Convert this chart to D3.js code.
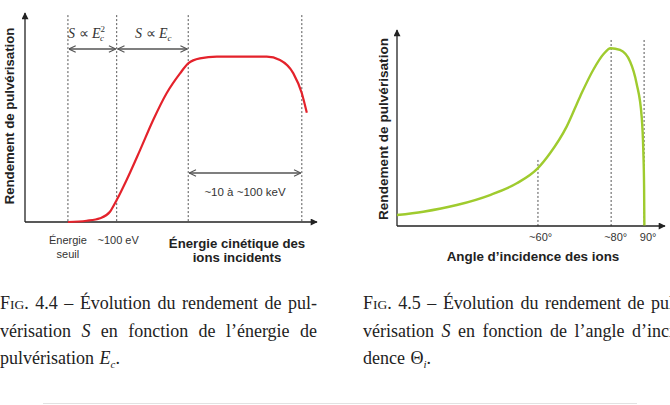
<!DOCTYPE html>
<html>
<head>
<meta charset="utf-8">
<script src="https://cdn.jsdelivr.net/npm/d3@7"></script>
<style>
  body { margin: 0; background: #fff; }
  svg { display: block; }
</style>
</head>
<body>
<svg id="fig" width="670" height="405"></svg>
<script>
//sputtering yield vs ion energy (arbitrary units 0..100 on both axes)
var energyX = [14.7, 21.1, 25.7, 29.1, 31.4, 34.8, 39.4, 43.9, 48.5, 53.1, 55.9, 59.9, 65.7, 82.8, 87.3, 91.9, 94.8, 96.5];
var energyY = [0, 0.6, 1.8, 4.9, 10.5, 20.1, 34.4, 48.8, 61.6, 71.1, 75.9, 78.3, 79.1, 79.1, 77.5, 71.1, 61.6, 52.3];
//dashed guide lines of the energy chart
var energyMarks = [14.7, 31.4, 55.9, 94.8];
var energyTickLabels = [["Énergie", "seuil"], ["~100 eV"]];
var energyTickAt = [14.7, 31.9];

//sputtering yield vs incidence angle (arbitrary units)
var angleX = [0, 9.8, 22.3, 34.7, 44.7, 52.5, 57.1, 63.3, 68.3, 73.2, 77, 79.7, 83.2, 87, 89.4, 91.3, 91.9, 92.2, 92.3];
var angleY = [5.6, 7.3, 10.7, 15.8, 21.8, 29.4, 37.1, 50.7, 66, 79.6, 87.6, 90.7, 89.8, 83.8, 72.7, 55.7, 38.6, 19.9, 0.2];
var angleMarks = [52.6, 79.9, 92.2];
var angleMarkTop = [33.7, 94.9, 94.9];
var angleTickLabels = ["~60°", "~80°", "90°"];
var angleTickAt = [53.6, 81.6, 93.7];

var svg = d3.select("#fig");
var sans = "'Liberation Sans', Arial, sans-serif";
var serif = "'Liberation Serif', 'Times New Roman', serif";

//arrow heads
var defs = svg.append("defs");
defs.append("marker").attr("id", "axisHead")
  .attr("viewBox", "0 0 10 10").attr("refX", 9).attr("refY", 5)
  .attr("markerWidth", 8).attr("markerHeight", 7).attr("markerUnits", "userSpaceOnUse")
  .attr("orient", "auto")
  .append("path").attr("d", "M0,0 L10,5 L0,10 Z").attr("fill", "#222");
defs.append("marker").attr("id", "vHead")
  .attr("viewBox", "0 0 10 10").attr("refX", 9.5).attr("refY", 5)
  .attr("markerWidth", 8).attr("markerHeight", 8).attr("markerUnits", "userSpaceOnUse")
  .attr("orient", "auto-start-reverse")
  .append("path").attr("d", "M1,1 L9.5,5 L1,9").attr("fill", "none")
  .attr("stroke", "#555").attr("stroke-width", 1.4);

//draws the two arrows of a chart frame
function drawAxes(g, x, y) {
  g.append("line")
    .attr("x1", x(0)).attr("y1", y(0)).attr("x2", x(0)).attr("y2", y(100))
    .attr("stroke", "#222").attr("stroke-width", 1.3).attr("marker-end", "url(#axisHead)");
  g.append("line")
    .attr("x1", x(0)).attr("y1", y(0)).attr("x2", x(100)).attr("y2", y(0))
    .attr("stroke", "#222").attr("stroke-width", 1.3).attr("marker-end", "url(#axisHead)");
}

function dashed(g, x1, y1, x2, y2) {
  g.append("line")
    .attr("x1", x1).attr("y1", y1).attr("x2", x2).attr("y2", y2)
    .attr("stroke", "#555").attr("stroke-width", 1).attr("stroke-dasharray", "2,2");
}

function doubleArrow(g, x1, x2, yy) {
  g.append("line")
    .attr("x1", x1).attr("y1", yy).attr("x2", x2).attr("y2", yy)
    .attr("stroke", "#555").attr("stroke-width", 1.3)
    .attr("marker-start", "url(#vHead)").attr("marker-end", "url(#vHead)");
}

function yTitle(g, xx, yy, size) {
  g.append("text")
    .attr("transform", "translate(" + xx + "," + yy + ") rotate(-90)")
    .attr("text-anchor", "middle")
    .style("font-family", sans).style("font-weight", "bold").style("font-size", size + "px")
    .attr("fill", "#222")
    .text("Rendement de pulvérisation");
}

// ---------- left chart: energy ----------
var xE = d3.scaleLinear().domain([0, 100]).range([25, 317]);
var yE = d3.scaleLinear().domain([0, 100]).range([222, 13]);
var gE = svg.append("g");

energyMarks.forEach(function(m) { dashed(gE, xE(m), yE(99), xE(m), yE(0)); });
drawAxes(gE, xE, yE);

gE.append("path")
  .datum(d3.zip(energyX, energyY))
  .attr("d", d3.line().x(function(d) { return xE(d[0]); }).y(function(d) { return yE(d[1]); }).curve(d3.curveMonotoneX))
  .attr("fill", "none").attr("stroke", "#e4222b").attr("stroke-width", 2.2);

//regime arrows
doubleArrow(gE, xE(energyMarks[0]) + 1, xE(energyMarks[1]) - 1, 49);
doubleArrow(gE, xE(energyMarks[1]) + 1, xE(energyMarks[2]) - 1, 49);
doubleArrow(gE, xE(energyMarks[2]) + 1, xE(energyMarks[3]) - 1, 173);

//S ~ Ec^2
var law1 = gE.append("text").attr("x", 68).attr("y", 38)
  .style("font-family", serif).style("font-size", "14px").style("font-style", "italic").attr("fill", "#333");
law1.append("tspan").text("S ");
law1.append("tspan").style("font-style", "normal").text("∝");
law1.append("tspan").text(" E");
law1.append("tspan").attr("dy", -6).style("font-size", "9px").style("font-style", "normal").text("2");
law1.append("tspan").attr("dx", -5).attr("dy", 9).style("font-size", "9px").text("c");

var law2 = gE.append("text").attr("x", 135).attr("y", 38)
  .style("font-family", serif).style("font-size", "14px").style("font-style", "italic").attr("fill", "#333");
law2.append("tspan").text("S ");
law2.append("tspan").style("font-style", "normal").text("∝");
law2.append("tspan").text(" E");
law2.append("tspan").attr("dy", 3).style("font-size", "9px").text("c");

gE.append("text")
  .attr("x", (xE(energyMarks[2]) + xE(energyMarks[3])) / 2).attr("y", 196)
  .attr("text-anchor", "middle")
  .style("font-family", sans).style("font-size", "11.5px").attr("fill", "#333")
  .text("~10 à ~100 keV");

energyTickLabels.forEach(function(lines, i) {
  lines.forEach(function(s, j) {
    gE.append("text")
      .attr("x", xE(energyTickAt[i])).attr("y", 244 + j * 14)
      .attr("text-anchor", "middle")
      .style("font-family", sans).style("font-size", "11px").attr("fill", "#333")
      .text(s);
  });
});

["Énergie cinétique des", "ions incidents"].forEach(function(s, j) {
  gE.append("text")
    .attr("x", 237).attr("y", 248 + j * 14)
    .attr("text-anchor", "middle")
    .style("font-family", sans).style("font-weight", "bold").style("font-size", "13.2px").attr("fill", "#222")
    .text(s);
});
yTitle(gE, 14, 116, 13.2);

// ---------- right chart: angle ----------
var xA = d3.scaleLinear().domain([0, 100]).range([397, 665]);
var yA = d3.scaleLinear().domain([0, 100]).range([226, 30]);
var gA = svg.append("g");

angleMarks.forEach(function(m, i) { dashed(gA, xA(m), yA(angleMarkTop[i]), xA(m), yA(0)); });
drawAxes(gA, xA, yA);

gA.append("path")
  .datum(d3.zip(angleX, angleY))
  .attr("d", d3.line().x(function(d) { return xA(d[0]); }).y(function(d) { return yA(d[1]); }).curve(d3.curveMonotoneX))
  .attr("fill", "none").attr("stroke", "#9fcb2e").attr("stroke-width", 2.4);

angleTickLabels.forEach(function(s, i) {
  gA.append("text")
    .attr("x", xA(angleTickAt[i])).attr("y", 241)
    .attr("text-anchor", "middle")
    .style("font-family", sans).style("font-size", "11px").attr("fill", "#333")
    .text(s);
});
gA.append("text")
  .attr("x", 533).attr("y", 261)
  .attr("text-anchor", "middle")
  .style("font-family", sans).style("font-weight", "bold").style("font-size", "13.4px").attr("fill", "#222")
  .text("Angle d’incidence des ions");
yTitle(gA, 388, 129, 13.6);

// ---------- captions ----------
//each word is a list of [text, kind] pieces: "" roman, "i" italic, "sc" small caps, "sub" subscript
var captionLeft = [
  [[["F", ""], ["IG", "sc"], [".", ""]], [["4.4", ""]], [["–", ""]], [["Évolution", ""]], [["du", ""]], [["rendement", ""]], [["de", ""]], [["pul-", ""]]],
  [[["vérisation", ""]], [["S", "i"]], [["en", ""]], [["fonction", ""]], [["de", ""]], [["l’énergie", ""]], [["de", ""]]],
  [[["pulvérisation", ""]], [["E", "i"], ["c", "sub"], [".", ""]]]
];
var captionRight = [
  [[["F", ""], ["IG", "sc"], [".", ""]], [["4.5", ""]], [["–", ""]], [["Évolution", ""]], [["du", ""]], [["rendement", ""]], [["de", ""]], [["pul-", ""]]],
  [[["vérisation", ""]], [["S", "i"]], [["en", ""]], [["fonction", ""]], [["de", ""]], [["l’angle", ""]], [["d’inci-", ""]]],
  [[["dence", ""]], [["Θ", ""], ["i", "sub"], [".", ""]]]
];
var captionBaselines = [309, 337, 364];

function drawCaption(words, x0, yy, width) {
  var nodes = words.map(function(w) {
    var t = svg.append("text").attr("y", yy)
      .style("font-family", serif).style("font-size", "18px").attr("fill", "#222");
    var shift = 0;
    w.forEach(function(p) {
      var s = t.append("tspan").text(p[0]);
      var want = p[1] == "sub" ? 4 : 0;
      if (want != shift) { s.attr("dy", want - shift); shift = want; }
      if (p[1] == "i") s.style("font-style", "italic");
      if (p[1] == "sc") s.style("font-size", "13.5px");
      if (p[1] == "sub") s.style("font-size", "11px").style("font-style", "italic");
    });
    return t;
  });
  var widths = nodes.map(function(n) { return n.node().getComputedTextLength(); });
  var gap = width ? (width - d3.sum(widths)) / (words.length - 1) : 5.5;
  var cx = x0;
  nodes.forEach(function(n, i) {
    n.attr("x", cx);
    cx += widths[i] + gap;
  });
}

captionLeft.forEach(function(line, i) {
  drawCaption(line, 0, captionBaselines[i], i < 2 ? 317 : null);
});
captionRight.forEach(function(line, i) {
  drawCaption(line, 363, captionBaselines[i], i < 2 ? 317 : null);
});

//thin rule at the bottom of the page
svg.append("line")
  .attr("x1", 43).attr("x2", 637).attr("y1", 403.5).attr("y2", 403.5)
  .attr("stroke", "#e2e2e2").attr("stroke-width", 1);
</script>
</body>
</html>
